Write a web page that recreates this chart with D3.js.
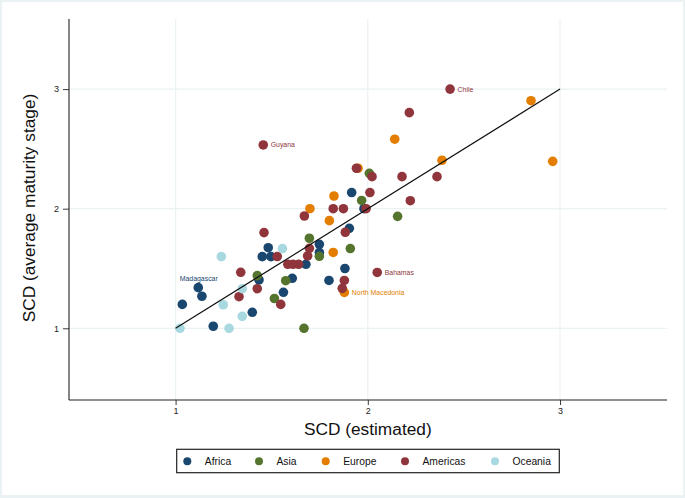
<!DOCTYPE html>
<html><head><meta charset="utf-8">
<script src="https://cdn.jsdelivr.net/npm/d3@7"></script>
<style>
html,body{margin:0;padding:0;background:#eaf2f3;}
svg{display:block;}
text{font-family:"Liberation Sans",Arial,Helvetica,sans-serif;}
</style></head>
<body>
<script>
// ---- data ----
const groups = ["Africa","Asia","Europe","Americas","Oceania"];
const colors = ["#1a476f","#55752f","#e37e00","#90353b","#a8d8e0"];
const xTicks = [1,2,3];
const yTicks = [1,2,3];
const africa = [[1.035,1.20],[1.118,1.34],[1.137,1.268],[1.196,1.017],[1.399,1.134],[1.434,1.404],[1.482,1.674],[1.451,1.599],[1.496,1.599],[1.561,1.301],[1.607,1.418],[1.678,1.535],[1.748,1.702],[1.748,1.634],[1.904,1.836],[1.916,2.135],[1.980,2.00],[1.798,1.40],[1.881,1.50]];
const asia = [[1.425,1.44],[1.514,1.249],[1.573,1.398],[1.668,1.0],[1.696,1.753],[1.748,1.602],[1.909,1.667],[1.968,2.069],[2.008,2.296],[2.155,1.936]];
const europe = [[1.699,2.00],[1.80,1.90],[1.82,1.634],[1.824,2.106],[1.878,1.30],[1.949,2.338],[2.14,2.581],[2.386,2.405],[2.849,2.903],[2.962,2.396]];
const americas = [[1.330,1.264],[1.339,1.468],[1.425,1.331],[1.460,1.80],[1.456,2.533],[1.529,1.60],[1.547,1.20],[1.584,1.535],[1.611,1.535],[1.640,1.535],[1.687,1.605],[1.696,1.669],[1.670,1.939],[1.820,2.00],[1.873,2.00],[1.883,1.803],[1.878,1.40],[1.867,1.334],[1.941,2.338],[2.022,2.268],[2.011,2.135],[1.991,2.00],[2.049,1.467],[2.178,2.268],[2.216,2.803],[2.221,2.067],[2.360,2.268],[2.428,3.0]];
const oceania = [[1.023,1.0],[1.238,1.599],[1.248,1.197],[1.278,1.0],[1.347,1.10],[1.347,1.331],[1.556,1.667]];
const series = [africa, asia, europe, americas, oceania];
// labelled points: [name, group index, x, y, position]
const labels = [["Madagascar",0,1.118,1.34,"top"],["Chile",3,2.428,3.0,"right"],["Guyana",3,1.456,2.533,"right"],["Bahamas",3,2.049,1.467,"right"],["North Macedonia",2,1.878,1.30,"right"]];
const refLine = [[1,1],[3,3]];

// ---- chart ----
const W=685,H=498;
const svg=d3.select("body").append("svg").attr("width",W).attr("height",H);
svg.append("rect").attr("x",0).attr("y",0).attr("width",W).attr("height",H).attr("fill","#eaf2f3");
svg.append("rect").attr("x",2).attr("y",2).attr("width",681).attr("height",493).attr("fill","#ffffff");

const L=69,R=667,T=19,B=400;
const x=d3.scaleLinear().domain([0.4455,3.5565]).range([L,R]);
const y=d3.scaleLinear().domain([0.4005,3.586]).range([B,T]);

// grid
const grid=svg.append("g");
grid.selectAll("line.v").data(xTicks).join("line")
  .attr("x1",d=>x(d)).attr("x2",d=>x(d)).attr("y1",T).attr("y2",B)
  .attr("stroke","#eaf2f3").attr("stroke-width",1.2);
grid.selectAll("line.h").data(yTicks).join("line")
  .attr("y1",d=>y(d)).attr("y2",d=>y(d)).attr("x1",L).attr("x2",R)
  .attr("stroke","#eaf2f3").attr("stroke-width",1.2);

// axes
const xAxis=d3.axisBottom(x).tickValues(xTicks).tickSize(5).tickPadding(3).tickFormat(d3.format("d"));
const yAxis=d3.axisLeft(y).tickValues(yTicks).tickSize(6).tickPadding(4).tickFormat(d3.format("d"));
const gx=svg.append("g").attr("transform",`translate(0,${B})`).call(xAxis);
const gy=svg.append("g").attr("transform",`translate(${L},0)`).call(yAxis);
[gx,gy].forEach(g=>{
  g.select(".domain").attr("stroke","#222").attr("stroke-width",1.1);
  g.selectAll(".tick line").attr("stroke","#222").attr("stroke-width",0.9);
  g.selectAll(".tick text").attr("fill","#222").style("font-size","9px").style("font-family","Liberation Sans, Arial, sans-serif");
});
gy.select(".domain").attr("d",`M0,${B}V${T}`);
gx.select(".domain").attr("d",`M${L},0H${R}`);

// titles
svg.append("text").attr("x",(x(1)+x(3))/2).attr("y",435).attr("text-anchor","middle")
  .style("font-size","17.3px").attr("fill","#111").text("SCD (estimated)");
svg.append("text").attr("transform",`translate(35,${(y(1)+y(3))/2+ (208-208.7)}) rotate(-90)`).attr("text-anchor","middle")
  .style("font-size","17.3px").attr("fill","#111").text("SCD (average maturity stage)");

// points
series.forEach((s,i)=>{
  svg.append("g").selectAll("circle").data(s).join("circle")
    .attr("cx",d=>x(d[0])).attr("cy",d=>y(d[1])).attr("r",4.8)
    .attr("fill",colors[i]);
});

// reference line
svg.append("path").datum(refLine)
  .attr("d",d3.line().x(d=>x(d[0])).y(d=>y(d[1])))
  .attr("stroke","#111").attr("stroke-width",1.2).attr("fill","none");

// point labels
labels.forEach(([name,g,vx,vy,pos])=>{
  const t=svg.append("text").style("font-size","6.9px").attr("fill",colors[g]).text(name);
  if(pos==="right"){
    t.attr("x",x(vx)+7.5).attr("y",y(vy)+2.5).attr("text-anchor","start");
  } else {
    t.attr("x",x(vx)+0.5).attr("y",y(vy)-6.8).attr("text-anchor","middle");
  }
});

// legend
const lg=svg.append("g");
lg.append("rect").attr("x",176.7).attr("y",449.3).attr("width",382.6).attr("height",23.4)
  .attr("fill","#fff").attr("stroke","#222").attr("stroke-width",1.2);
const legX=[187.3,259,325.7,405,495];
groups.forEach((g,i)=>{
  lg.append("circle").attr("cx",legX[i]).attr("cy",461.2).attr("r",4).attr("fill",colors[i]);
  lg.append("text").attr("x",legX[i]+17.5).attr("y",464.8).style("font-size","10.3px").attr("fill","#111").text(g);
});
</script>
</body></html>
